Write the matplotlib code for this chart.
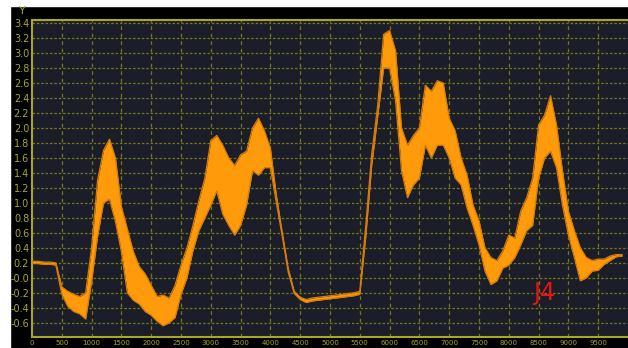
import numpy as np
import matplotlib.pyplot as plt
from matplotlib.patches import Rectangle

# sample positions and the lower / upper edge of the noisy trace at each one
sample_x = list(range(0, 10000, 100))
trace_lo = [0.19, 0.19, 0.18, 0.18, 0.17, -0.22, -0.38, -0.45, -0.48, -0.55,
            -0.05, 0.55, 1.00, 1.05, 0.75, 0.35, -0.20, -0.30, -0.35, -0.45,
            -0.50, -0.58, -0.64, -0.60, -0.53, -0.22, 0.00, 0.36, 0.63, 0.80,
            0.97, 1.16, 0.85, 0.70, 0.57, 0.70, 0.97, 1.43, 1.37, 1.47,
            1.47, 1.00, 0.55, 0.07, -0.21, -0.29, -0.33, -0.31, -0.30, -0.29,
            -0.28, -0.27, -0.26, -0.25, -0.24, -0.22, 0.55, 1.50, 2.15, 2.80,
            2.80, 2.36, 1.43, 1.07, 1.24, 1.33, 1.77, 1.60, 1.77, 1.77,
            1.60, 1.33, 1.24, 0.93, 0.70, 0.44, 0.09, -0.09, -0.04, 0.13,
            0.17, 0.27, 0.44, 0.63, 0.70, 1.33, 1.60, 1.69, 1.47, 0.97,
            0.57, 0.27, -0.04, 0.00, 0.09, 0.10, 0.18, 0.23, 0.28, 0.29]
trace_hi = [0.22, 0.22, 0.21, 0.21, 0.20, -0.12, -0.18, -0.22, -0.25, -0.20,
            0.40, 1.30, 1.70, 1.85, 1.60, 0.95, 0.65, 0.35, 0.15, 0.05,
            -0.10, -0.25, -0.23, -0.27, -0.10, 0.17, 0.40, 0.70, 1.03, 1.33,
            1.83, 1.90, 1.77, 1.60, 1.50, 1.64, 1.69, 2.00, 2.13, 1.96,
            1.73, 1.10, 0.60, 0.12, -0.18, -0.26, -0.29, -0.27, -0.26, -0.25,
            -0.24, -0.23, -0.22, -0.21, -0.20, -0.18, 0.70, 1.65, 2.30, 3.25,
            3.30, 3.03, 2.00, 1.77, 1.90, 2.00, 2.57, 2.49, 2.63, 2.60,
            2.13, 1.96, 1.60, 1.37, 0.97, 0.76, 0.40, 0.27, 0.23, 0.36,
            0.57, 0.53, 0.89, 1.07, 1.33, 2.04, 2.17, 2.43, 2.04, 1.43,
            0.89, 0.63, 0.40, 0.27, 0.23, 0.25, 0.25, 0.29, 0.31, 0.31]

y_ticks = [3.4, 3.2, 3.0, 2.8, 2.6, 2.4, 2.2, 2.0, 1.8, 1.6, 1.4, 1.2, 1.0,
           0.8, 0.6, 0.4, 0.2, 0.0, -0.2, -0.4, -0.6]
y_labels = ['3.4', '3.2', '3.0', '2.8', '2.6', '2.4', '2.2', '2.0', '1.8',
            '1.6', '1.4', '1.2', '1.0', '0.8', '0.6', '0.4', '0.2', '-0.0',
            '-0.2', '-0.4', '-0.6']
x_ticks = list(range(0, 10000, 500))

OLIVE = '#a8a824'
GRID = '#76761f'
TRACE = '#ff9a0a'
EDGE = '#d77c0a'
narrow = ['Liberation Sans Narrow', 'DejaVu Sans']

fig = plt.figure(figsize=(6.28, 3.48), dpi=100, facecolor='black')
# white border strips on the left and top
fig.add_artist(Rectangle((0, 0), 10 / 628, 1, transform=fig.transFigure,
                         color='white', zorder=0))
fig.add_artist(Rectangle((0, 1 - 6 / 348), 1, 6 / 348, transform=fig.transFigure,
                         color='white', zorder=0))

ax = fig.add_axes([32 / 628, 11 / 348, 596 / 628, 317 / 348])
ax.set_facecolor('#1b1e28')
ax.set_xlim(0, 10000)
ax.set_ylim(-0.79, 3.44)

ax.set_yticks(y_ticks)
ax.set_yticklabels(y_labels, family=narrow, fontsize=7, color=OLIVE)
ax.set_xticks(x_ticks)
ax.set_xticklabels([str(v) for v in x_ticks], family=narrow, fontsize=5,
                   color=OLIVE)
ax.tick_params(length=0, pad=2)

for y in y_ticks:
    ax.axhline(y, color=GRID, lw=0.9, dashes=(2, 1.5), zorder=1)
for x in x_ticks[1:]:
    ax.axvline(x, color=GRID, lw=0.9, dashes=(3, 3), zorder=1)

for side in ['left', 'top', 'bottom']:
    ax.spines[side].set_color(OLIVE)
    ax.spines[side].set_linewidth(1.5)
ax.spines['right'].set_visible(False)

ax.fill_between(sample_x, trace_lo, trace_hi, color=TRACE, lw=0, zorder=3)
ax.plot(sample_x, trace_lo, color=EDGE, lw=0.9, zorder=3)
ax.plot(sample_x, trace_hi, color=EDGE, lw=0.9, zorder=3)

ax.text(8590, -0.2, 'J4', color='#e81414', fontsize=17, family=narrow,
        ha='center', va='center', zorder=4)
fig.text(22 / 628, 1 - 11 / 348, 'Y', color=OLIVE, fontsize=8, family=narrow,
         ha='center', va='center')

fig.savefig('out.png', dpi=100, facecolor=fig.get_facecolor())
